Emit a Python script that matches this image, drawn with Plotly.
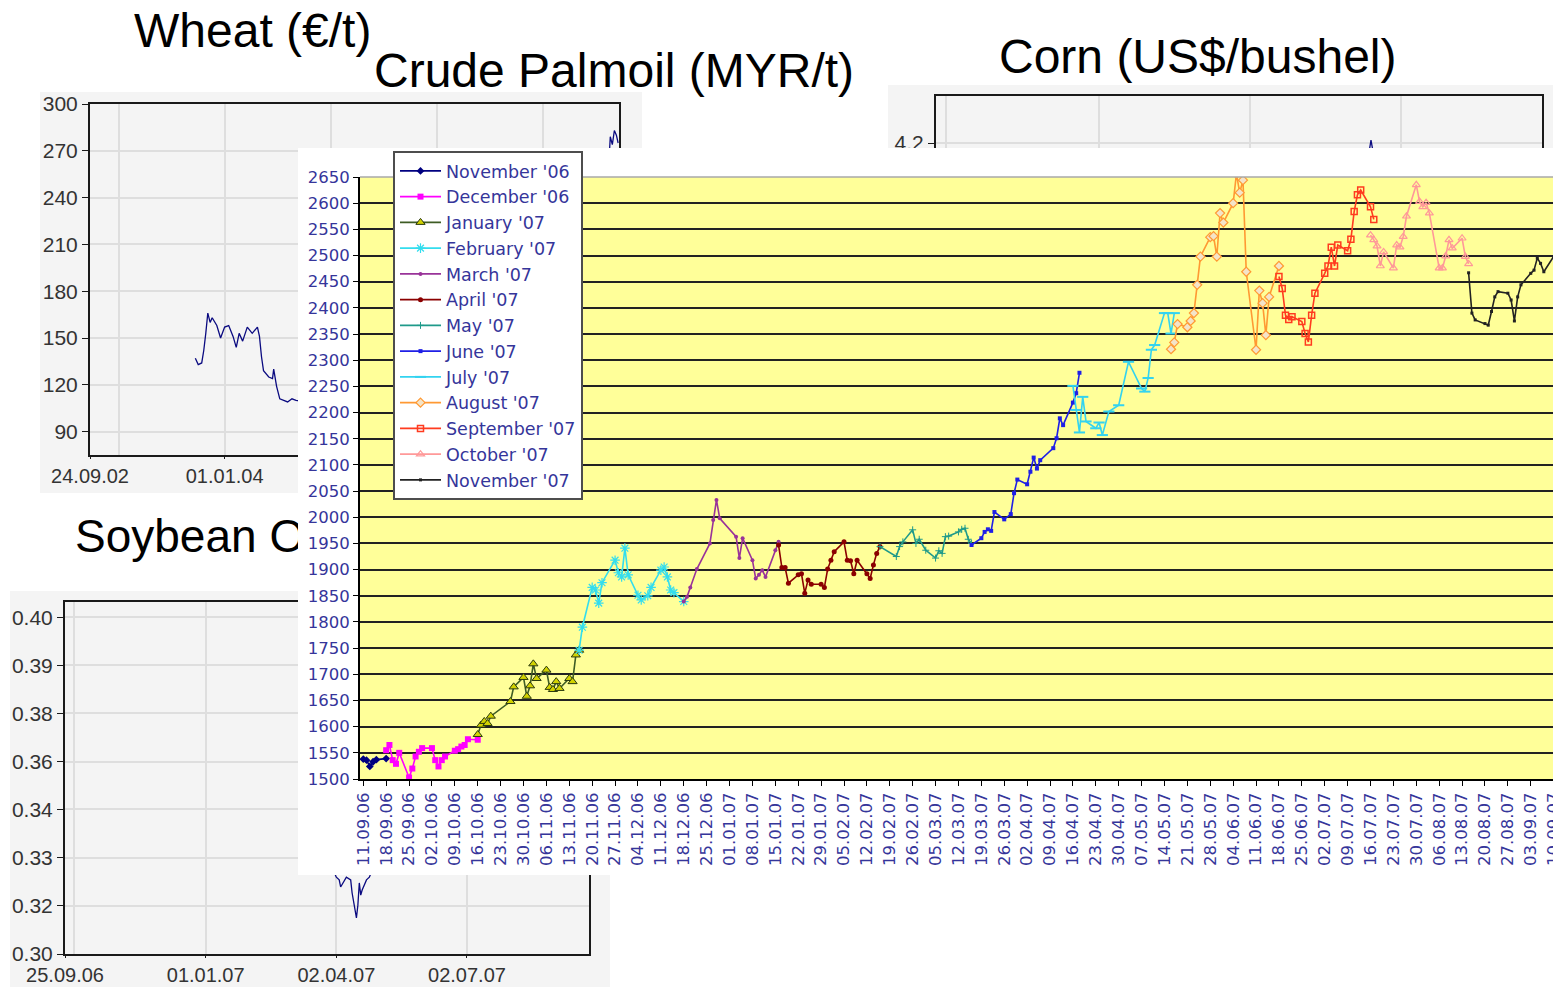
import plotly.graph_objects as go

PAGE_W, PAGE_H = 1561, 987
BODY_MARGIN = 8                      # the page body places the figure 8px in from the corner
W, H = PAGE_W - BODY_MARGIN, PAGE_H - BODY_MARGIN

# ---------------- crude palm oil futures (MYR/t), one pair per contract ----------------
NOV06_DATES = ["2006-09-11", "2006-09-12", "2006-09-13", "2006-09-14", "2006-09-15", "2006-09-18"]
NOV06_VALUES = [1538, 1536, 1524, 1533, 1537, 1539]

DEC06_DATES = ["2006-09-18", "2006-09-19", "2006-09-20", "2006-09-21", "2006-09-22", "2006-09-25",
               "2006-09-26", "2006-09-27", "2006-09-28", "2006-09-29", "2006-10-02", "2006-10-03",
               "2006-10-04", "2006-10-05", "2006-10-06", "2006-10-09", "2006-10-10", "2006-10-11",
               "2006-10-12", "2006-10-13", "2006-10-16"]
DEC06_VALUES = [1555, 1565, 1536, 1529, 1550, 1503, 1520, 1543, 1552, 1559, 1559, 1536,
                1524, 1536, 1543, 1554, 1557, 1562, 1565, 1576, 1575]

JAN07_DATES = ["2006-10-16", "2006-10-17", "2006-10-18", "2006-10-19", "2006-10-20", "2006-10-26",
               "2006-10-27", "2006-10-30", "2006-10-31", "2006-11-01", "2006-11-02", "2006-11-03",
               "2006-11-06", "2006-11-07", "2006-11-08", "2006-11-09", "2006-11-10", "2006-11-13",
               "2006-11-14", "2006-11-15", "2006-11-16"]
JAN07_VALUES = [1585, 1603, 1610, 1606, 1620, 1648, 1676, 1694, 1658, 1678, 1720, 1692,
                1708, 1675, 1671, 1686, 1673, 1692, 1686, 1737, 1746]

FEB07_DATES = ["2006-11-16", "2006-11-17", "2006-11-20", "2006-11-21", "2006-11-22", "2006-11-23",
               "2006-11-27", "2006-11-28", "2006-11-29", "2006-11-30", "2006-12-01", "2006-12-04",
               "2006-12-05", "2006-12-07", "2006-12-08", "2006-12-11", "2006-12-12", "2006-12-13",
               "2006-12-14", "2006-12-15", "2006-12-18"]
FEB07_VALUES = [1746, 1790, 1866, 1861, 1836, 1875, 1918, 1894, 1886, 1941, 1890, 1851,
                1842, 1850, 1866, 1899, 1905, 1886, 1861, 1856, 1839]

MAR07_DATES = ["2006-12-18", "2006-12-19", "2006-12-20", "2006-12-22", "2006-12-26", "2006-12-27",
               "2006-12-28", "2006-12-29", "2007-01-03", "2007-01-04", "2007-01-05", "2007-01-08",
               "2007-01-09", "2007-01-10", "2007-01-11", "2007-01-12", "2007-01-15", "2007-01-16"]
MAR07_VALUES = [1839, 1848, 1866, 1901, 1950, 1995, 2033, 1998, 1963, 1922, 1960, 1918,
                1883, 1890, 1899, 1886, 1937, 1953]

APR07_DATES = ["2007-01-16", "2007-01-17", "2007-01-18", "2007-01-19", "2007-01-22", "2007-01-23",
               "2007-01-24", "2007-01-25", "2007-01-26", "2007-01-29", "2007-01-30", "2007-01-31",
               "2007-02-01", "2007-02-02", "2007-02-05", "2007-02-06", "2007-02-07", "2007-02-08",
               "2007-02-09", "2007-02-12", "2007-02-13", "2007-02-14", "2007-02-15", "2007-02-16"]
APR07_VALUES = [1947, 1904, 1904, 1874, 1890, 1892, 1855, 1880, 1872, 1872, 1866, 1901,
                1918, 1934, 1953, 1918, 1917, 1892, 1918, 1892, 1883, 1909, 1931, 1944]

MAY07_DATES = ["2007-02-16", "2007-02-21", "2007-02-22", "2007-02-23", "2007-02-26", "2007-02-27",
               "2007-02-28", "2007-03-02", "2007-03-05", "2007-03-06", "2007-03-07", "2007-03-08",
               "2007-03-09", "2007-03-12", "2007-03-13", "2007-03-14", "2007-03-15", "2007-03-16"]
MAY07_VALUES = [1944, 1925, 1944, 1953, 1976, 1950, 1958, 1937, 1922, 1936, 1931, 1963,
                1964, 1972, 1977, 1979, 1958, 1950]

JUN07_DATES = ["2007-03-16", "2007-03-19", "2007-03-20", "2007-03-21", "2007-03-22", "2007-03-23",
               "2007-03-26", "2007-03-28", "2007-03-29", "2007-03-30", "2007-04-02", "2007-04-03",
               "2007-04-04", "2007-04-05", "2007-04-06", "2007-04-10", "2007-04-11", "2007-04-12",
               "2007-04-13", "2007-04-16", "2007-04-17", "2007-04-18"]
JUN07_VALUES = [1947, 1960, 1972, 1977, 1974, 2010, 1996, 2006, 2046, 2072, 2063, 2087,
                2114, 2093, 2109, 2132, 2151, 2189, 2176, 2219, 2237, 2276]

JUL07_DATES = ["2007-04-16", "2007-04-17", "2007-04-18", "2007-04-19", "2007-04-20", "2007-04-23",
               "2007-04-24", "2007-04-25", "2007-04-27", "2007-04-30", "2007-05-03", "2007-05-07",
               "2007-05-08", "2007-05-09", "2007-05-10", "2007-05-11", "2007-05-14", "2007-05-15",
               "2007-05-16", "2007-05-17"]
JUL07_VALUES = [2251, 2205, 2162, 2230, 2183, 2170, 2181, 2157, 2202, 2214, 2297, 2246,
                2240, 2266, 2320, 2329, 2390, 2390, 2351, 2390]

AUG07_DATES = ["2007-05-16", "2007-05-17", "2007-05-18", "2007-05-21", "2007-05-22", "2007-05-23",
               "2007-05-24", "2007-05-25", "2007-05-28", "2007-05-29", "2007-05-30", "2007-05-31",
               "2007-06-01", "2007-06-04", "2007-06-05", "2007-06-06", "2007-06-07", "2007-06-08",
               "2007-06-11", "2007-06-12", "2007-06-13", "2007-06-14", "2007-06-15", "2007-06-18"]
AUG07_VALUES = [2321, 2334, 2369, 2363, 2375, 2390, 2444, 2498, 2535, 2537, 2498, 2581,
                2563, 2600, 2656, 2620, 2644, 2469, 2320, 2433, 2409, 2348, 2421, 2480]

SEP07_DATES = ["2007-06-18", "2007-06-19", "2007-06-20", "2007-06-21", "2007-06-22", "2007-06-25",
               "2007-06-26", "2007-06-27", "2007-06-28", "2007-06-29", "2007-07-02", "2007-07-03",
               "2007-07-04", "2007-07-05", "2007-07-06", "2007-07-09", "2007-07-10", "2007-07-11",
               "2007-07-12", "2007-07-13", "2007-07-16", "2007-07-17"]
SEP07_VALUES = [2460, 2437, 2386, 2378, 2383, 2374, 2351, 2335, 2386, 2428, 2466, 2480,
                2516, 2480, 2520, 2509, 2531, 2584, 2616, 2625, 2593, 2569]

OCT07_DATES = ["2007-07-16", "2007-07-17", "2007-07-18", "2007-07-19", "2007-07-20", "2007-07-23",
               "2007-07-24", "2007-07-25", "2007-07-26", "2007-07-27", "2007-07-30", "2007-07-31",
               "2007-08-01", "2007-08-02", "2007-08-03", "2007-08-06", "2007-08-07", "2007-08-08",
               "2007-08-09", "2007-08-10", "2007-08-13", "2007-08-14", "2007-08-15"]
OCT07_VALUES = [2539, 2530, 2518, 2480, 2507, 2476, 2520, 2516, 2536, 2575, 2635, 2603,
                2593, 2601, 2581, 2476, 2476, 2499, 2530, 2514, 2533, 2498, 2484]

NOV07_DATES = ["2007-08-15", "2007-08-16", "2007-08-17", "2007-08-20", "2007-08-21", "2007-08-22",
               "2007-08-23", "2007-08-24", "2007-08-27", "2007-08-28", "2007-08-29", "2007-08-30",
               "2007-08-31", "2007-09-03", "2007-09-04", "2007-09-05", "2007-09-06", "2007-09-07",
               "2007-09-10", "2007-09-11", "2007-09-12"]
NOV07_VALUES = [2467, 2390, 2377, 2370, 2367, 2393, 2421, 2431, 2428, 2415, 2375, 2421,
                2444, 2466, 2472, 2495, 2485, 2469, 2498, 2501, 2523]

CONTRACTS = ["November '06", "December '06", "January '07", "February '07", "March '07",
             "April '07", "May '07", "June '07", "July '07", "August '07",
             "September '07", "October '07", "November '07"]
CONTRACT_DATES = [NOV06_DATES, DEC06_DATES, JAN07_DATES, FEB07_DATES, MAR07_DATES, APR07_DATES,
                  MAY07_DATES, JUN07_DATES, JUL07_DATES, AUG07_DATES, SEP07_DATES, OCT07_DATES,
                  NOV07_DATES]
CONTRACT_VALUES = [NOV06_VALUES, DEC06_VALUES, JAN07_VALUES, FEB07_VALUES, MAR07_VALUES,
                   APR07_VALUES, MAY07_VALUES, JUN07_VALUES, JUL07_VALUES, AUG07_VALUES,
                   SEP07_VALUES, OCT07_VALUES, NOV07_VALUES]

# ---------------- background charts (mostly hidden under the palm oil chart) ----------------
WHEAT_DATES = ["2003-09-22", "2003-10-02", "2003-10-14", "2003-10-21", "2003-10-28", "2003-11-04",
               "2003-11-12", "2003-11-19", "2003-12-05", "2003-12-18", "2004-01-01", "2004-01-15",
               "2004-01-30", "2004-02-10", "2004-02-20", "2004-03-03", "2004-03-19", "2004-04-05",
               "2004-04-23", "2004-04-30", "2004-05-07", "2004-05-14", "2004-06-01", "2004-06-14",
               "2004-06-18", "2004-06-28", "2004-07-09", "2004-07-22", "2004-08-05", "2004-08-20",
               "2004-09-03", "2004-11-15", "2005-02-15", "2005-05-16", "2005-08-15", "2005-11-15",
               "2006-02-15", "2006-05-15", "2006-08-15", "2006-11-15", "2007-02-15", "2007-05-15",
               "2007-07-16", "2007-08-10", "2007-08-17", "2007-08-22", "2007-08-29", "2007-09-05",
               "2007-09-12", "2007-09-18"]
WHEAT_VALUES = [137, 133, 134, 142, 153, 166, 160, 163, 158, 150, 157, 158,
                151, 144, 153, 148, 157, 153, 157, 151, 138, 129, 125, 124,
                130, 119, 111, 110, 109, 111, 110, 108, 106, 110, 104, 108,
                114, 120, 135, 158, 152, 160, 185, 235, 262, 279, 274, 283,
                280, 275]
WHEAT_X_RANGE = ["2002-09-24", "2007-09-21"]
WHEAT_X_TICKVALS = ["2002-09-24", "2004-01-01", "2005-01-01", "2006-01-01", "2007-01-01"]
WHEAT_X_TICKTEXT = ["24.09.02", "01.01.04", "", "", ""]   # later labels sit under the palm oil chart
WHEAT_Y_RANGE = [75, 300]

SOY_DATES = ["2007-03-07", "2007-03-15", "2007-03-22", "2007-03-29", "2007-04-02", "2007-04-04",
             "2007-04-05", "2007-04-09", "2007-04-12", "2007-04-13", "2007-04-16", "2007-04-17",
             "2007-04-18", "2007-04-19", "2007-04-20", "2007-04-23", "2007-04-25", "2007-05-02",
             "2007-05-16", "2007-06-01", "2007-06-15", "2007-07-02", "2007-07-16", "2007-08-01",
             "2007-08-15", "2007-09-04", "2007-09-21"]
SOY_VALUES = [0.336, 0.339, 0.333, 0.3265, 0.3228, 0.3220, 0.3199, 0.3228, 0.3220, 0.3181,
              0.3107, 0.3145, 0.3211, 0.3175, 0.3190, 0.3220, 0.3228, 0.330, 0.338, 0.348,
              0.356, 0.360, 0.366, 0.362, 0.368, 0.378, 0.382]
SOY_X_RANGE = ["2006-09-25", "2007-09-25"]
SOY_X_TICKVALS = ["2006-09-25", "2007-01-01", "2007-04-02", "2007-07-02"]
SOY_X_TICKTEXT = ["25.09.06", "01.01.07", "02.04.07", "02.07.07"]
SOY_Y_RANGE = [0.30, 0.4045]
SOY_Y_TICKVALS = [0.30, 0.3143, 0.3286, 0.3429, 0.3571, 0.3714, 0.3857, 0.40]
SOY_Y_TICKTEXT = ["0.30", "0.32", "0.33", "0.34", "0.36", "0.38", "0.39", "0.40"]

CORN_DATES = ["2006-09-25", "2006-10-16", "2006-11-01", "2006-11-15", "2006-12-01", "2006-12-15",
              "2007-01-02", "2007-01-16", "2007-02-01", "2007-02-15", "2007-03-01", "2007-03-15",
              "2007-04-02", "2007-04-16", "2007-05-01", "2007-05-15", "2007-06-01", "2007-06-08",
              "2007-06-14", "2007-06-19", "2007-07-02", "2007-07-16", "2007-08-01", "2007-08-15",
              "2007-09-04", "2007-09-21"]
CORN_VALUES = [2.55, 3.00, 3.20, 3.60, 3.70, 3.65, 3.75, 4.05, 4.10, 4.12, 4.05, 3.80,
               3.70, 3.55, 3.65, 3.80, 3.90, 4.00, 4.21, 4.05, 3.75, 3.40, 3.30, 3.30,
               3.40, 3.55]
CORN_Y_RANGE = [3.24, 4.36]
CORN_Y_TICKVALS = [4.2]
CORN_Y_TICKTEXT = ["4.2"]

MAIN_X_RANGE = ["2006-09-10", "2007-09-12 06:00"]
MAIN_Y_RANGE = [1500, 2650]

TITLES = ["Wheat (€/t)", "Crude Palmoil (MYR/t)", "Corn (US$/bushel)"]
SOY_TITLE = "Soybean O"   # rest of the title lies under the palm oil chart

# ---------------- layout, in page pixels (left, top, right, bottom) ----------------
WHEAT_PANEL = (40, 92, 642, 493)
WHEAT_PLOT = (90, 104, 619, 455)
SOY_AREA = (10, 505, 610, 987)        # grey panel plus the title above it
SOY_PANEL_TOP = 591
SOY_PLOT = (65, 602, 589, 954)
CORN_PANEL = (888, 85, 1561, 450)
CORN_PLOT = (936, 96, 1542, 425)
MAIN_PANEL = (298, 148, 1561, 875)
MAIN_PLOT = (360, 177, 1561, 779)
TITLE_POS = [(132, 30), (372, 71), (997, 56)]
SOY_TITLE_POS = (75, 540)
LEGEND_TOP_LEFT = (393, 151)

PANEL_GREY = "#f4f4f4"
GRID_GREY = "#dedede"
AXIS_BLUE = "#35359a"

STYLES = {
    "November '06": dict(line="#000080", symbol="diamond", size=6),
    "December '06": dict(line="#ff00ff", symbol="square", size=6),
    "January '07": dict(line="#3e5c24", symbol="triangle-up", size=8, fill="#d2d200",
                        edge="#2b3a10", ew=1),
    "February '07": dict(line="#33ddee", symbol="asterisk-open", size=8, ew=1.2),
    "March '07": dict(line="#993399", symbol="circle", size=4),
    "April '07": dict(line="#8b0000", symbol="circle", size=5),
    "May '07": dict(line="#1f9a8a", symbol="cross-thin-open", size=5, ew=1),
    "June '07": dict(line="#1f1fe6", symbol="square", size=4),
    "July '07": dict(line="#33d3f0", symbol="line-ew-open", size=8, ew=2),
    "August '07": dict(line="#ff9933", symbol="diamond", size=7, fill="#f4e4c8",
                       edge="#ff9933", ew=1.2),
    "September '07": dict(line="#ff3b1f", symbol="square-open", size=6, ew=1.5),
    "October '07": dict(line="#ff9999", symbol="triangle-up-open", size=7, ew=1.2),
    "November '07": dict(line="#222222", symbol="square", size=3),
}


def px_x(x):
    return (x - BODY_MARGIN) / W


def px_y(y):
    return 1 - (y - BODY_MARGIN) / H


def dom(box):
    l, t, r, b = box
    return [max(px_x(l), 0), min(px_x(r), 1)], [max(px_y(b), 0), min(px_y(t), 1)]


def panel_point(box, x, y):
    l, t, r, b = box
    return (x - l) / (r - l), (b - y) / (b - t)


fig = go.Figure()

# subplot order == stacking order: wheat, soybean, corn, then palm oil on top
fig.add_trace(go.Scatter(x=[], y=[], xaxis="x", yaxis="y", showlegend=False, hoverinfo="skip"))
fig.add_trace(go.Scatter(x=WHEAT_DATES, y=WHEAT_VALUES, mode="lines", xaxis="x2", yaxis="y2",
                         line=dict(color="#0a0a80", width=1.3), showlegend=False))
sx, sy = panel_point(SOY_AREA, *SOY_TITLE_POS)
fig.add_trace(go.Scatter(x=[sx], y=[sy], mode="text", text=[SOY_TITLE], textposition="middle right",
                         textfont=dict(family="Liberation Sans", size=46, color="black"),
                         xaxis="x3", yaxis="y3", cliponaxis=False, showlegend=False,
                         hoverinfo="skip"))
fig.add_trace(go.Scatter(x=SOY_DATES, y=SOY_VALUES, mode="lines", xaxis="x4", yaxis="y4",
                         line=dict(color="#0a0a80", width=1.3), showlegend=False))
fig.add_trace(go.Scatter(x=[], y=[], xaxis="x5", yaxis="y5", showlegend=False, hoverinfo="skip"))
fig.add_trace(go.Scatter(x=CORN_DATES, y=CORN_VALUES, mode="lines", xaxis="x6", yaxis="y6",
                         line=dict(color="#0a0a80", width=1.3), showlegend=False))
fig.add_trace(go.Scatter(x=[], y=[], xaxis="x7", yaxis="y7", showlegend=False, hoverinfo="skip"))

for name, dates, values in zip(CONTRACTS, CONTRACT_DATES, CONTRACT_VALUES):
    st = STYLES[name]
    fig.add_trace(go.Scatter(
        x=dates, y=values, name=name, mode="lines+markers", xaxis="x8", yaxis="y8",
        line=dict(color=st["line"], width=1.6),
        marker=dict(symbol=st["symbol"], size=st["size"], color=st.get("fill", st["line"]),
                    line=dict(color=st.get("edge", st["line"]), width=st.get("ew", 0))),
    ))

hidden = dict(visible=False, range=[0, 1], fixedrange=True, automargin=False)
mini = dict(showline=True, mirror=True, linecolor="#1a1a1a", linewidth=2, ticks="outside",
            ticklen=6, tickcolor="#1a1a1a", showgrid=True, gridcolor=GRID_GREY, gridwidth=1.5,
            zeroline=False, fixedrange=True, automargin=False,
            tickfont=dict(family="Liberation Sans", size=21, color="#333333"))
mini_x = dict(mini, ticklen=2, tickfont=dict(family="Liberation Sans", size=20, color="#333333"))
quarter_minor = dict(tickvals=["2006-10-01"], showgrid=True, gridcolor=GRID_GREY,
                     gridwidth=1.5, ticks="")

d = {name: dom(box) for name, box in [("wp", WHEAT_PANEL), ("w", WHEAT_PLOT), ("sp", SOY_AREA),
                                       ("s", SOY_PLOT), ("cp", CORN_PANEL), ("c", CORN_PLOT),
                                       ("mp", MAIN_PANEL), ("m", MAIN_PLOT)]}
soy_grey_top = panel_point(SOY_AREA, SOY_AREA[0], SOY_PANEL_TOP)[1]

fig.update_layout(
    template="none",
    width=W, height=H, margin=dict(l=0, r=0, t=0, b=0, pad=0), autosize=False,
    paper_bgcolor="white", plot_bgcolor="rgba(0,0,0,0)",
    xaxis=dict(hidden, domain=d["wp"][0], anchor="y"),
    yaxis=dict(hidden, domain=d["wp"][1], anchor="x"),
    xaxis2=dict(mini_x, domain=d["w"][0], anchor="y2", type="date", range=WHEAT_X_RANGE,
                tickmode="array", tickvals=WHEAT_X_TICKVALS, ticktext=WHEAT_X_TICKTEXT,
                minor=dict(quarter_minor, tickvals=["2003-01-01"])),
    yaxis2=dict(mini, domain=d["w"][1], anchor="x2", range=WHEAT_Y_RANGE, tick0=0, dtick=30),
    xaxis3=dict(hidden, domain=d["sp"][0], anchor="y3"),
    yaxis3=dict(hidden, domain=d["sp"][1], anchor="x3"),
    xaxis4=dict(mini_x, domain=d["s"][0], anchor="y4", type="date", range=SOY_X_RANGE,
                tickmode="array", tickvals=SOY_X_TICKVALS, ticktext=SOY_X_TICKTEXT,
                minor=quarter_minor),
    yaxis4=dict(mini, domain=d["s"][1], anchor="x4", range=SOY_Y_RANGE, tickmode="array",
                tickvals=SOY_Y_TICKVALS, ticktext=SOY_Y_TICKTEXT),
    xaxis5=dict(hidden, domain=d["cp"][0], anchor="y5"),
    yaxis5=dict(hidden, domain=d["cp"][1], anchor="x5"),
    xaxis6=dict(mini_x, domain=d["c"][0], anchor="y6", type="date", range=SOY_X_RANGE,
                tickmode="array", tickvals=SOY_X_TICKVALS, showticklabels=False,
                minor=quarter_minor),
    yaxis6=dict(mini, domain=d["c"][1], anchor="x6", range=CORN_Y_RANGE, tickmode="array",
                tickvals=CORN_Y_TICKVALS, ticktext=CORN_Y_TICKTEXT),
    xaxis7=dict(hidden, domain=d["mp"][0], anchor="y7"),
    yaxis7=dict(hidden, domain=d["mp"][1], anchor="x7"),
    xaxis8=dict(domain=d["m"][0], anchor="y8", type="date", range=MAIN_X_RANGE,
                tick0="2006-09-11", dtick=7 * 86400000, tickformat="%d.%m.%y", tickangle=-90,
                ticks="outside", ticklen=5, tickcolor="black", showline=True, linecolor="black",
                linewidth=2, showgrid=False, zeroline=False, fixedrange=True, automargin=False,
                ticklabeloverflow="allow",
                tickfont=dict(family="DejaVu Sans", size=16.5, color=AXIS_BLUE)),
    yaxis8=dict(domain=d["m"][1], anchor="x8", range=MAIN_Y_RANGE, tick0=1500, dtick=50,
                ticks="outside", ticklen=5, tickcolor="black", showline=True, linecolor="black",
                linewidth=2, showgrid=True, gridcolor="#222222", gridwidth=2, zeroline=False,
                fixedrange=True, automargin=False,
                tickfont=dict(family="DejaVu Sans", size=16.5, color=AXIS_BLUE)),
    legend=dict(x=px_x(LEGEND_TOP_LEFT[0]), y=px_y(LEGEND_TOP_LEFT[1]), xanchor="left",
                yanchor="top", bgcolor="white", bordercolor="#4d4d4d", borderwidth=2,
                traceorder="normal", itemwidth=41,
                font=dict(family="DejaVu Sans", size=17.5, color=AXIS_BLUE)),
    shapes=[
        dict(type="rect", xref="x", yref="y", x0=0, x1=1, y0=0, y1=1, fillcolor=PANEL_GREY,
             line=dict(width=0), layer="below"),
        dict(type="rect", xref="x3", yref="y3", x0=0, x1=1, y0=0, y1=soy_grey_top,
             fillcolor=PANEL_GREY, line=dict(width=0), layer="below"),
        dict(type="rect", xref="x5", yref="y5", x0=0, x1=1, y0=0, y1=1, fillcolor=PANEL_GREY,
             line=dict(width=0), layer="below"),
        dict(type="rect", xref="x7", yref="y7", x0=0, x1=1, y0=0, y1=1, fillcolor="white",
             line=dict(width=0), layer="below"),
        dict(type="rect", xref="x8", yref="y8", x0=MAIN_X_RANGE[0], x1=MAIN_X_RANGE[1],
             y0=MAIN_Y_RANGE[0], y1=MAIN_Y_RANGE[1], fillcolor="#ffff99",
             line=dict(width=0), layer="below"),
        dict(type="line", xref="paper", yref="paper", x0=d["m"][0][0], x1=1,
             y0=d["m"][1][1], y1=d["m"][1][1], line=dict(color="#a8a8a8", width=1.5),
             layer="above"),
    ],
    annotations=[
        dict(text=t, x=px_x(px), y=px_y(py), xref="paper", yref="paper", xanchor="left",
             yanchor="middle", showarrow=False,
             font=dict(family="Liberation Sans", size=48, color="black"))
        for t, (px, py) in zip(TITLES, TITLE_POS)
    ],
)

fig.write_html("out.html")
